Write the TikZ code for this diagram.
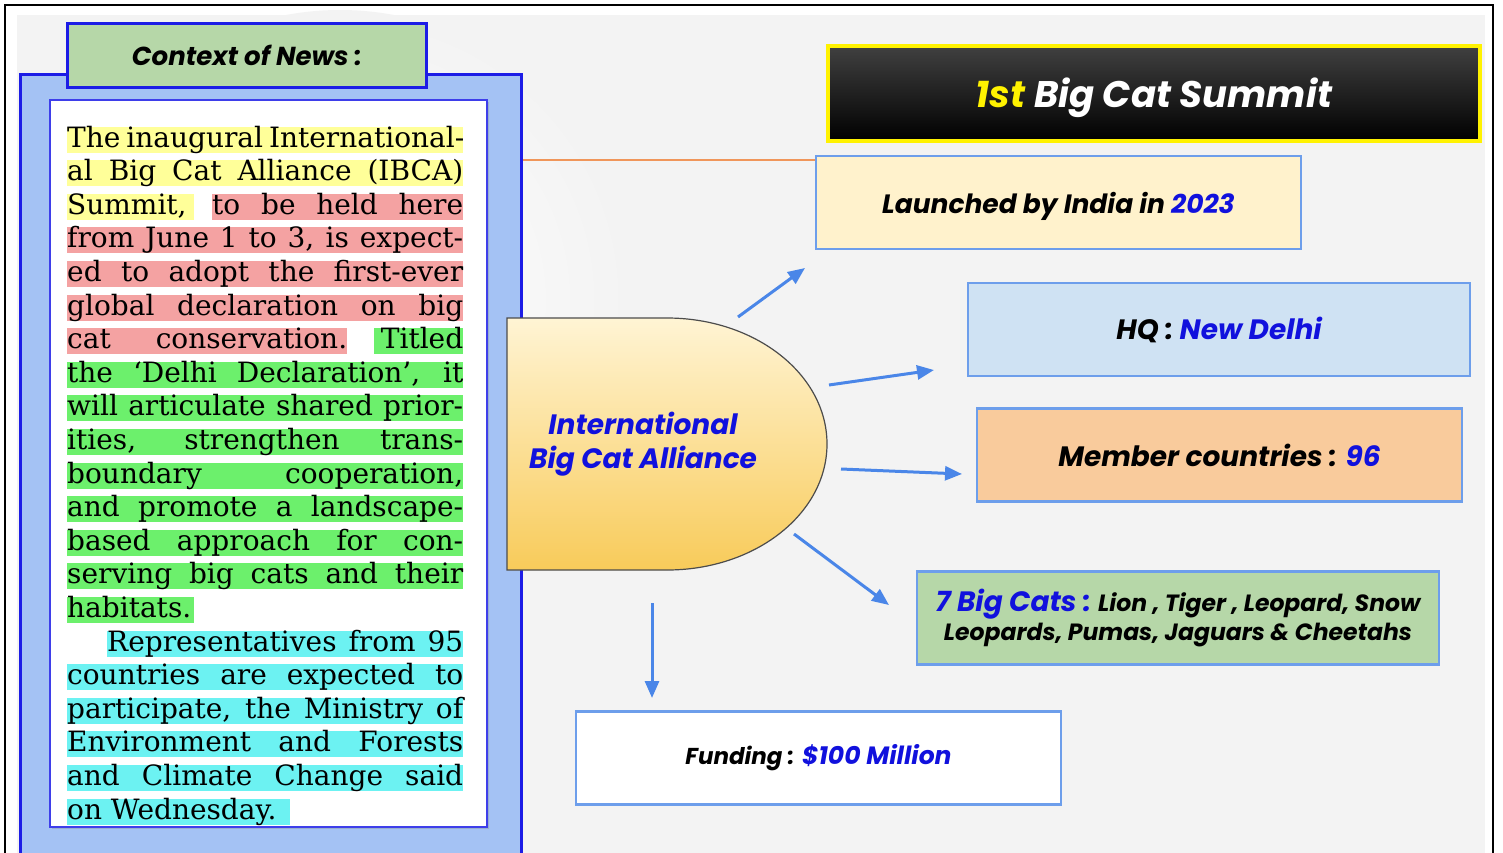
\documentclass[tikz,border=0pt]{standalone}
\usepackage{fontspec}
\usepackage{xcolor}
\usepackage{tikz}
\usetikzlibrary{arrows.meta, positioning, shadows}
\newfontfamily\popfont{Poppins}
\newfontfamily\newsfont{DejaVu Serif}
\definecolor{SlideGray}{HTML}{F3F3F3}
\definecolor{PanelBlue}{HTML}{A4C2F4}
\definecolor{EdgeBlue}{HTML}{1C1CE6}
\definecolor{BoxEdge}{HTML}{6D9EEB}
\definecolor{ArrowBlue}{HTML}{4A86E8}
\definecolor{TextBlue}{HTML}{1111DD}
\definecolor{LineOrange}{HTML}{F0965A}
\definecolor{HeadGreen}{HTML}{B6D7A8}
\definecolor{LaunchCream}{HTML}{FFF2CC}
\definecolor{HQBlue}{HTML}{CFE2F3}
\definecolor{MemberPeach}{HTML}{F9CB9C}
\definecolor{TitleTop}{HTML}{404040}
\definecolor{SunTop}{HTML}{FFF4D4}
\definecolor{SunBottom}{HTML}{F8CB5A}
\definecolor{hlYellow}{HTML}{FFFF99}
\definecolor{hlRed}{HTML}{F4A2A2}
\definecolor{hlGreen}{HTML}{6CF06C}
\definecolor{hlCyan}{HTML}{6CF2F2}

\begin{document}
\begin{tikzpicture}[
    x=1pt, y=-1pt,
    factbox/.style={draw=BoxEdge, line width=2.2pt, minimum width=485pt, minimum height=93pt, align=center, font=\popfont\bfseries\itshape\fontsize{28}{32}\selectfont},
    newsline/.style={anchor=base west, inner sep=0pt, text height=20.5pt, text depth=5.5pt, font=\newsfont\fontsize{28}{32}\selectfont},
    arrow/.style={-{Triangle[length=17pt, width=14pt]}, line width=3pt, color=ArrowBlue}
]
    \useasboundingbox (0,0) rectangle (1503,852);
    \fill[white] (0,0) rectangle (1503,852);

    % slide background and frame
    \fill[SlideGray] (17,15) rectangle (1485,880);
    \shade[inner color=white, outer color=SlideGray] (340,300) circle [radius=290pt];
    \draw[black, line width=2.5pt] (5,880) -- (5,5) -- (1493,5) -- (1493,880);

    % left panel with the news clipping
    \coordinate (panelrim) at (523,160);
    \draw[EdgeBlue, line width=3pt, fill=PanelBlue] (20.5,74.5) rectangle (521.5,890);
    \node[draw=EdgeBlue, line width=3pt, fill=HeadGreen, minimum width=359pt, minimum height=64pt,
          font=\popfont\bfseries\itshape\fontsize{26}{30}\selectfont] (context) at (247,55.5) {Context of News :};
    \node[draw=EdgeBlue!85, line width=2pt, fill=white, minimum width=437pt, minimum height=727pt,
          drop shadow={opacity=0.3, shadow xshift=2pt, shadow yshift=-2pt}] (clip) at (268.5,463.5) {};

    \foreach \idx/\xa/\len/\col/\words in {
        0/67/396/hlYellow/{The inaugural International-},
        1/67/396/hlYellow/{al Big Cat Alliance (IBCA)},
        2/67/127/hlYellow/{Summit,\hfill},
        2/212/251/hlRed/{to be held here},
        3/67/396/hlRed/{from June 1 to 3, is expect-},
        4/67/396/hlRed/{ed to adopt the first-ever},
        5/67/396/hlRed/{global declaration on big},
        6/67/280/hlRed/{cat conservation.},
        6/374/89/hlGreen/{\hfill Titled},
        7/67/396/hlGreen/{the ‘Delhi Declaration’, it},
        8/67/396/hlGreen/{will articulate shared prior-},
        9/67/396/hlGreen/{ities, strengthen trans-},
        10/67/396/hlGreen/{boundary cooperation,},
        11/67/396/hlGreen/{and promote a landscape-},
        12/67/396/hlGreen/{based approach for con-},
        13/67/396/hlGreen/{serving big cats and their},
        14/67/127/hlGreen/{habitats.\hfill},
        15/107/356/hlCyan/{Representatives from 95},
        16/67/396/hlCyan/{countries are expected to},
        17/67/396/hlCyan/{participate, the Ministry of},
        18/67/396/hlCyan/{Environment and Forests},
        19/67/396/hlCyan/{and Climate Change said},
        20/67/223/hlCyan/{on Wednesday.\hfill}}
        \node[newsline, fill=\col] (line-\idx-\xa) at (\xa,{147+33.6*\idx}) {\makebox[\len pt][s]{\words}};

    % summit facts
    \node[draw=yellow, line width=3.5pt, top color=TitleTop, bottom color=black, minimum width=652pt, minimum height=95pt,
          text height=27pt, text depth=0pt,
          text=white, font=\popfont\bfseries\itshape\fontsize{37}{40}\selectfont] (title) at (1154,93.5)
          {\textcolor{yellow}{1st} Big Cat Summit};
    \node[factbox, fill=LaunchCream, text depth=0pt, font=\popfont\bfseries\itshape\fontsize{26.5}{30}\selectfont] (launch) at (1058.5,202.5)
          {Launched by India in \textcolor{TextBlue}{2023}};
    \node[factbox, fill=HQBlue, minimum width=502pt] (hq) at (1219,329.5) {HQ : \textcolor{TextBlue}{New Delhi}};
    \node[factbox, fill=MemberPeach] (member) at (1219.5,455) {Member countries : \textcolor{TextBlue}{96}};
    \node[factbox, fill=HeadGreen, minimum width=522pt, font=\popfont\bfseries\itshape\fontsize{23.5}{29}\selectfont] (cats) at (1178,618)
          {{\fontsize{28}{29}\selectfont\textcolor{TextBlue}{7 Big Cats :}} Lion , Tiger , Leopard, Snow\\Leopards, Pumas, Jaguars \& Cheetahs};
    \node[factbox, fill=white, font=\popfont\bfseries\itshape\fontsize{25}{30}\selectfont] (funding) at (818.5,758)
          {{\fontsize{23}{30}\selectfont Funding :} \textcolor{TextBlue}{\$100 Million}};

    \draw[LineOrange, line width=2.4pt] (panelrim) -- (panelrim -| launch.west);

    % alliance shape
    \draw[draw=black!70, line width=1.2pt, top color=SunTop, bottom color=SunBottom]
        (507,318) -- (667,318) .. controls (755.4,318) and (827,374.4) .. (827,444)
        .. controls (827,513.6) and (755.4,570) .. (667,570) -- (507,570) -- cycle;
    \node[align=center, text=TextBlue, font=\popfont\bfseries\itshape\fontsize{28}{34}\selectfont] (ibca) at (643,444)
          {International\\Big Cat Alliance};

    % arrows out of the alliance
    \coordinate (to-launch-s) at (738,317);
    \coordinate (to-launch-e) at (805,268);
    \coordinate (to-hq-s) at (829,385);
    \coordinate (to-hq-e) at (934,370);
    \coordinate (to-member-s) at (841,469);
    \coordinate (to-member-e) at (962,474);
    \coordinate (to-cats-s) at (794,534);
    \coordinate (to-cats-e) at (889,605);
    \coordinate (to-funding-s) at (652,603);
    \coordinate (to-funding-e) at (652,698);

    \draw[arrow] (to-launch-s) -- (to-launch-e);
    \draw[arrow] (to-hq-s) -- (to-hq-e);
    \draw[arrow] (to-member-s) -- (to-member-e);
    \draw[arrow] (to-cats-s) -- (to-cats-e);
    \draw[arrow] (to-funding-s) -- (to-funding-e);
\end{tikzpicture}
\end{document}
